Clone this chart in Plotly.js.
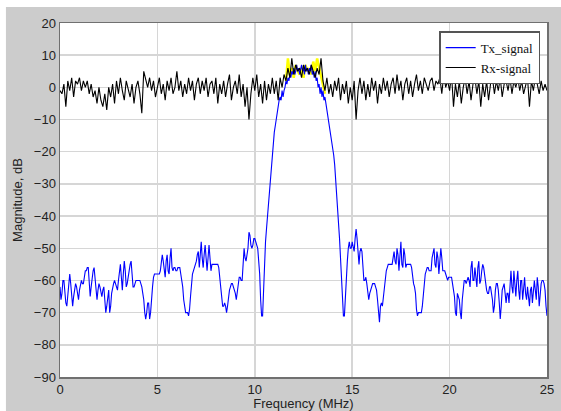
<!DOCTYPE html>
<html>
<head>
<meta charset="utf-8">
<script src="https://cdn.plot.ly/plotly-3.0.1.min.js"></script>
<style>html,body{margin:0;padding:0;background:#fff;}#chart{width:561px;height:411px;}</style>
</head>
<body>
<div id="chart"></div>
<script>
const txStart = 0, txStep = 0.05;
const rxStart = 0, rxStep = 0.1;
const hiStart = 11.6, hiStep = 0.1;

// Tx_signal magnitude (dB), 0 .. 25 MHz every 0.05 MHz
const txSignal = [
 -62,-66,-64,-60,-60,-64,-67,-68,-64,-60,-58,-61,-66,-68,-65,-62,-61,-62,-65,-66,
 -63,-61,-60,-61,-61,-59,-57,-57,-56,-56,-62,-65,-62,-59,-57,-56,-59,-64,-66,-63,
 -61,-62,-64,-65,-63,-62,-66,-70,-68,-64,-63,-70,-68,-64,-62,-61,-60,-61,-62,-63,
 -60,-56,-55,-59,-63,-58,-54,-57,-62,-61,-58,-57,-55,-54,-58,-62,-62,-61,-60,-60,
 -60,-60,-60,-61,-62,-64,-66,-70,-72,-70,-67,-67,-72,-70,-65,-62,-59,-58,-58,-58,
 -58,-58,-58,-57,-55,-52,-54,-58,-59,-54,-52,-57,-58,-53,-50,-56,-57,-56,-56,-57,
 -57,-56,-56,-56,-58,-60,-62,-66,-69,-70,-70,-70,-71,-69,-65,-61,-58,-57,-56,-55,
 -54,-52,-51,-56,-52,-48,-53,-56,-52,-49,-53,-57,-53,-49,-53,-57,-55,-55,-55,-55,
 -55,-55,-55,-56,-59,-62,-65,-68,-68,-67,-68,-70,-68,-65,-63,-62,-61,-61,-62,-63,
 -64,-66,-63,-60,-59,-59,-60,-60,-56,-50,-53,-54,-52,-50,-45,-46,-49,-50,-49,-47,
 -47,-48,-49,-50,-54,-58,-66,-71,-71,-62,-53,-48,-44,-40,-36,-32,-28,-24,-20,-16,
 -14,-12,-10,-7,-5,-4,-3,-4,-1,-3,-1,0,2,1,3,2,4,3,5,4,
 6,4,5,7,5,6,4,6,7,5,6,4,7,5,6,4,6,5,7,4,
 5,3,5,2,3,0,1,-2,0,-3,-1,-4,-3,-5,-7,-9,-11,-13,-15,-16,
 -18,-21,-24,-28,-32,-36,-41,-47,-53,-59,-66,-71,-71,-64,-57,-54,-50,-48,-50,-50,
 -48,-50,-51,-47,-44,-47,-51,-55,-51,-50,-51,-57,-60,-60,-59,-61,-64,-66,-64,-63,
 -62,-61,-61,-61,-62,-63,-66,-69,-73,-68,-67,-68,-65,-63,-60,-57,-56,-55,-55,-55,
 -55,-55,-53,-51,-54,-55,-50,-52,-57,-52,-48,-55,-56,-50,-52,-56,-55,-55,-55,-55,
 -55,-56,-59,-61,-62,-64,-69,-71,-70,-70,-70,-70,-68,-65,-60,-58,-57,-56,-56,-57,
 -57,-57,-53,-51,-50,-55,-56,-51,-53,-58,-54,-50,-53,-57,-57,-57,-58,-59,-60,-59,
 -59,-59,-59,-61,-63,-65,-70,-71,-64,-65,-66,-70,-72,-66,-62,-60,-60,-61,-60,-59,
 -60,-62,-56,-54,-60,-60,-56,-59,-62,-56,-54,-61,-60,-57,-55,-56,-59,-61,-63,-64,
 -64,-62,-62,-64,-66,-70,-68,-63,-61,-61,-63,-67,-72,-68,-63,-62,-61,-64,-67,-64,
 -64,-67,-62,-57,-62,-64,-57,-60,-65,-60,-57,-63,-66,-60,-60,-66,-62,-59,-64,-66,
 -62,-65,-68,-63,-62,-67,-64,-60,-63,-66,-59,-62,-68,-64,-61,-60,-60,-61,-63,-68,
 -71
];

// Rx-signal magnitude (dB), 0 .. 25 MHz every 0.1 MHz
const rxSignal = [
 -1,-2,1,-6,2,-1,3,-3,2,1,
 3,-1,2,0,2,-2,1,-3,-1,-5,
 0,-4,-6,-2,-7,0,-3,1,-5,2,
 -2,3,-1,-4,2,-1,-3,1,-5,0,
 2,-2,-8,5,2,0,3,-1,2,-3,
 0,3,-2,1,-4,2,-1,3,-2,0,
 5,-1,2,-3,1,-2,3,-1,2,-4,
 1,3,-2,2,-1,3,-3,1,2,-2,
 3,-5,1,-2,2,-3,1,4,-4,0,
 2,-2,4,-3,1,-6,0,-10,-2,3,
 -1,4,-3,1,-5,2,-4,1,-2,3,
 -2,2,-4,3,0,4,2,6,3,9,
 4,7,5,6,3,7,5,6,4,7,
 5,3,6,4,9,2,-1,3,-2,1,
 -3,2,-1,3,-4,1,-2,2,-5,0,
 -4,2,-10,-1,3,-2,2,-4,1,-3,
 3,-1,2,-5,1,-2,3,-1,2,-3,
 1,3,-2,4,-1,2,-4,1,3,-2,
 2,-3,1,4,-1,2,-2,3,1,-1,
 2,3,-1,2,1,3,-2,4,0,2,
 -1,4,-6,1,-3,2,-5,0,3,-2,
 2,-4,1,3,-2,2,-6,1,-3,2,
 -4,1,3,-2,2,-1,3,-3,1,2,
 -1,3,-2,2,0,3,-1,2,-2,1,
 3,-6,2,-1,3,1,-2,2,-1,1,
 -1
];

// yellow overlay in the pass band (dB), 11.6 .. 13.6 MHz every 0.1 MHz
const passHighlight = [2,9,4,6,3,7,5,4,6,3,7,5,6,4,8,5,9,6,3,1,-2];

const seriesNames = ['Tx_signal', 'Rx-signal'];
const xTicks = [0, 5, 10, 15, 20, 25];
const yTicks = [-90, -80, -70, -60, -50, -40, -30, -20, -10, 0, 10, 20];

const traces = [
  {type: 'scatter', mode: 'lines', x0: hiStart, dx: hiStep, y: passHighlight,
   line: {color: '#ffff00', width: 2.5}, showlegend: false, hoverinfo: 'skip'},
  {type: 'scatter', mode: 'lines', name: seriesNames[0], x0: txStart, dx: txStep, y: txSignal,
   line: {color: '#0000ff', width: 1.1}},
  {type: 'scatter', mode: 'lines', name: seriesNames[1], x0: rxStart, dx: rxStep, y: rxSignal,
   line: {color: '#000000', width: 1.1}}
];

const axisCommon = {
  showgrid: true, gridcolor: '#d6d6d6', gridwidth: 1.5,
  showline: true, linecolor: '#707070', linewidth: 1.5, mirror: true,
  zeroline: false, ticks: '', automargin: false,
  tickfont: {family: 'Arial, Liberation Sans, sans-serif', size: 13, color: '#222'}
};

const layout = {
  width: 561, height: 411,
  margin: {l: 60, r: 14, t: 23, b: 34},
  paper_bgcolor: '#ffffff', plot_bgcolor: '#ffffff',
  font: {family: 'Arial, Liberation Sans, sans-serif', color: '#222'},
  xaxis: Object.assign({}, axisCommon, {
    range: [0, 25], tickvals: xTicks,
    title: {text: 'Frequency (MHz)', font: {size: 13, color: '#222'}, standoff: 4}
  }),
  yaxis: Object.assign({}, axisCommon, {
    range: [-90, 20], tickvals: yTicks,
    title: {text: 'Magnitude, dB', font: {size: 13, color: '#222'}, standoff: 8}
  }),
  legend: {
    x: 0.986, y: 0.977, xanchor: 'right', yanchor: 'top',
    bgcolor: '#ffffff', bordercolor: '#555555', borderwidth: 1.5,
    font: {family: 'Liberation Serif, Times New Roman, serif', size: 13, color: '#111'},
    itemwidth: 30, tracegroupgap: 0
  },
  shapes: [
    {type: 'rect', xref: 'paper', yref: 'paper', x0: -0.111, x1: 1.05, y0: -0.2, y1: 1.045,
     fillcolor: '#cccccc', line: {width: 0}, layer: 'below'},
    {type: 'rect', xref: 'paper', yref: 'paper', x0: 0, x1: 1, y0: 0, y1: 1,
     fillcolor: '#ffffff', line: {width: 0}, layer: 'below'}
  ],
  showlegend: true
};

Plotly.newPlot('chart', traces, layout, {displayModeBar: false, staticPlot: true});
</script>
</body>
</html>
